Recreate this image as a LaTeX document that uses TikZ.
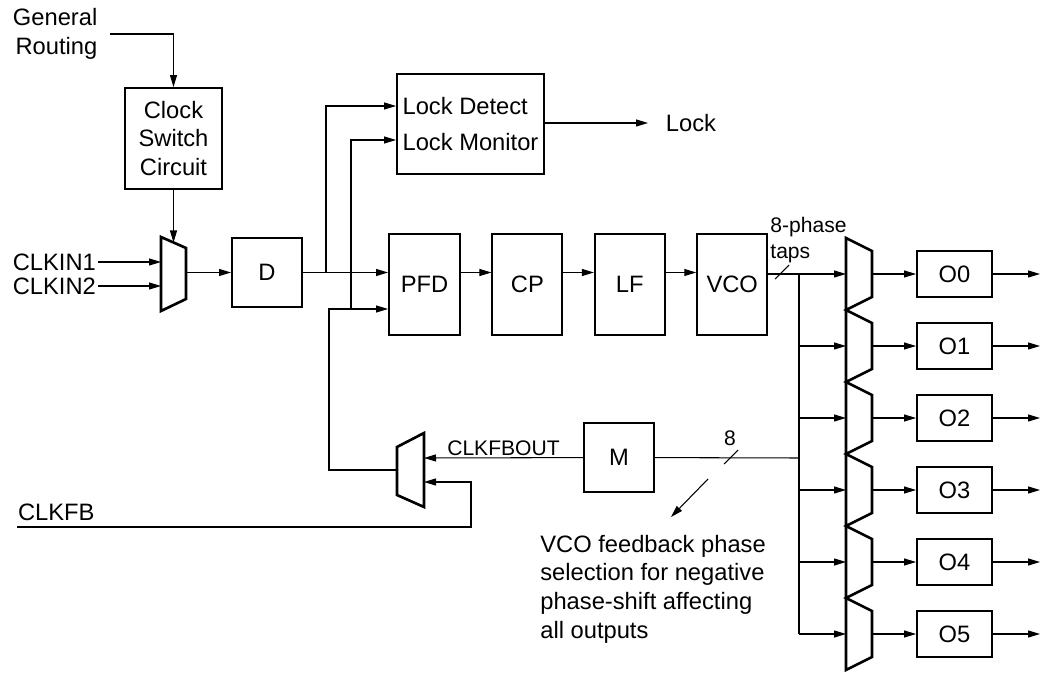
\documentclass[tikz,border=0pt]{standalone}
\usepackage{fontspec}
\setmainfont{Liberation Sans}
\usetikzlibrary{arrows.meta,positioning,calc}
\tikzset{
  blk/.style={rectangle, draw=black, line width=1.1pt, minimum width=1.4cm,
    minimum height=2.02cm, inner sep=0pt, align=center,
    font=\fontsize{13.5}{16.3}\selectfont},
  obox/.style={rectangle, draw=black, line width=1.1pt, minimum width=1.5cm,
    minimum height=0.92cm, inner sep=0pt, font=\fontsize{13.5}{16.3}\selectfont},
  lbl/.style={font=\fontsize{13.5}{16.3}\selectfont, inner sep=1pt},
  slbl/.style={font=\fontsize{12}{14.7}\selectfont, inner sep=1pt},
  muxline/.style={line width=1.5pt, line join=miter},
  wire/.style={line width=0.6pt},
  arr/.style={-{Triangle[length=2.4mm, width=1.4mm]}, line width=0.6pt},
}

\begin{document}
\begin{tikzpicture}[x=0.02cm, y=-0.02cm, node distance=0.61cm]
\useasboundingbox (0,0) rectangle (1045,675);

% ================= INPUT SIDE =================
\node[lbl, align=right, anchor=east, inner xsep=7pt] (genrt) at (110,34) {General\\Routing};
\node[blk, minimum width=1.94cm] (csc) at (173.5,138.5) {Clock\\Switch\\Circuit};

\node[lbl, anchor=east] (clkin1) at (98,262) {CLKIN1};
\node[lbl, anchor=east] (clkin2) at (98,286) {CLKIN2};

% input mux
\draw[muxline] (161,237) -- (186,248) -- (186,299) -- (161,311) -- cycle;
\coordinate (mxin1) at (161,262);
\coordinate (mxin2) at (161,286);
\coordinate (mxinout) at (186,272.5);
\coordinate (mxinsel) at (173.5,242.5);

\node[blk, minimum height=1.38cm] (d) at (267,272.5) {D};

% ================= LOCK =================
\node[blk, minimum width=2.94cm, minimum height=2cm, align=left] (lock) at (470.5,124)
  {Lock Detect\\[0.16cm]Lock Monitor};
\node[lbl, anchor=west, inner xsep=10pt] (lockout) at (648,123) {Lock};

% ================= PLL CHAIN =================
\node[blk, minimum width=1.42cm] (pfd) at (424.5,284.5) {PFD};
\node[blk, right=of pfd] (cp) {CP};
\node[blk, right=of cp] (lf) {LF};
\node[blk, right=of lf] (vco) {VCO};

\coordinate (tapdet) at (326,272.5);
\coordinate (tapfb) at (329,309);
\coordinate (tapmon) at (351,309);

% ================= OUTPUT MUXES =================
\draw[muxline] (846,238) \foreach \i in {0,...,5} {
  -- (872,{251+72*\i}) -- (872,{297+72*\i}) -- (846,{310+72*\i}) } -- cycle;

\foreach \i in {0,...,5} {
  \coordinate (mi\i) at (846,{274+72*\i});
  \coordinate (mo\i) at (872,{274+72*\i});
  \node[obox] (o\i) at (954.5,{274+72*\i}) {O\i};
  \coordinate (oend\i) at (1040,{274+72*\i});
}
\coordinate (bus) at (799,274);
\node[slbl, align=left] (taps) at (808.5,240) {8-phase\\taps};

% ================= FEEDBACK =================
\node[blk, minimum height=1.38cm] (m) at (619,457.5) {M};
\node[slbl] (eight) at (730,438) {8};

% feedback mux
\draw[muxline] (397,447) -- (424,433) -- (424,507) -- (397,495) -- cycle;
\coordinate (fbin1) at (424,458);
\coordinate (fbin2) at (424,482);
\coordinate (fbout) at (397,470);
\coordinate (fbturn) at (471,482);

\coordinate (clkfbin) at (17,527);
\node[lbl, anchor=south west] (clkfb) at (16,523) {CLKFB};

\node[lbl, align=left, anchor=west, inner sep=0pt] (note) at (540,589)
  {VCO feedback phase\\selection for negative\\phase-shift affecting\\all outputs};
\coordinate (annfrom) at (708,479);
\coordinate (annto) at (671,517);

% ================= ARROWS =================
\draw[arr] (genrt.east) -| (csc.north);
\draw[arr] (csc) -- (mxinsel);
\draw[arr] (clkin1) -- (mxin1);
\draw[arr] (clkin2) -- (mxin2);
\draw[arr] (mxinout) -- (d);

\draw[arr] (d) -- (pfd.west |- d);
\draw[arr] (tapdet) |- (lock.west |- 0,106);
\draw[arr] (tapmon) |- (lock.west |- 0,140);
\draw[arr] (lock.east |- lockout) -- (lockout);

\draw[arr] (pfd.east |- d) -- (cp.west |- d);
\draw[arr] (cp.east |- d) -- (lf.west |- d);
\draw[arr] (lf.east |- d) -- (vco.west |- d);
\draw[arr] (vco.east |- mi0) -- (mi0);
\draw[wire] (775,279) -- (789,265);

\draw[wire] (bus) -- (bus |- mi5);
\foreach \i in {1,...,5}
  \draw[arr] (bus |- mi\i) -- (mi\i);
\foreach \i in {0,...,5} {
  \draw[arr] (mo\i) -- (o\i);
  \draw[arr] (o\i) -- (oend\i);
}

\draw[wire] (bus |- fbin1) -- (m);
\draw[wire] (724,464) -- (738,450);
\draw[arr] (m) -- (fbin1) node[midway, above, slbl] {CLKFBOUT};
\draw[arr] (clkfbin) -| (fbturn) -- (fbin2);
\draw[arr] (fbout) -| (tapfb) -- (pfd.west |- tapfb);
\draw[arr] (annfrom) -- (annto);

\end{tikzpicture}
\end{document}
